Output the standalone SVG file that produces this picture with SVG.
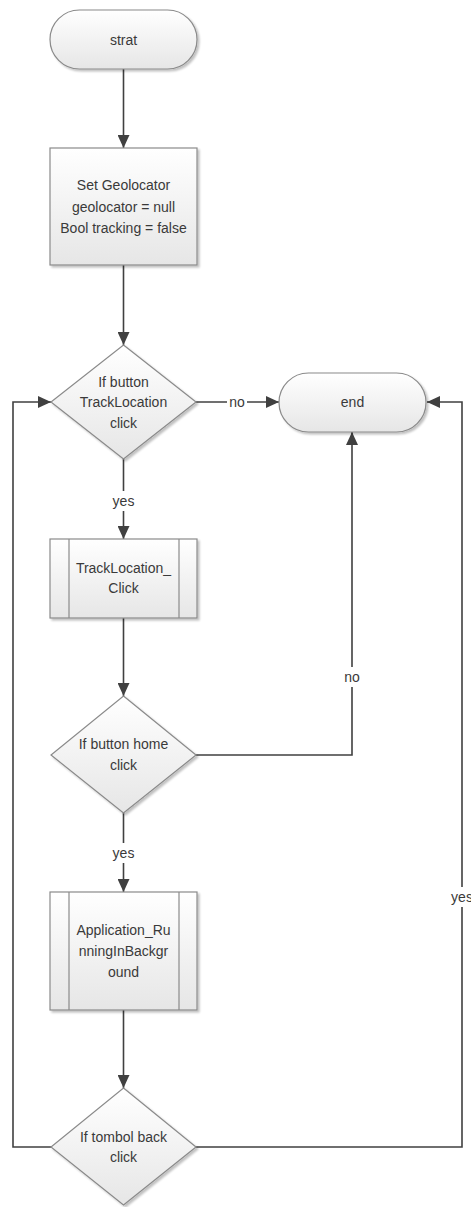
<svg xmlns="http://www.w3.org/2000/svg" width="471" height="1207" viewBox="0 0 471 1207">
<style>
.shape{fill:url(#g);stroke:#8a8a8a;stroke-width:1.2;filter:url(#sh)}
.inner{fill:none;stroke:#8a8a8a;stroke-width:1.2}
.t{font-family:"Liberation Sans",Arial,sans-serif;font-size:14px;fill:#3a3a3a;text-anchor:middle}
.c{fill:none;stroke:#404040;stroke-width:1.6}
.ca{marker-end:url(#ah)}
.lb{fill:#ffffff}
</style>
<defs>
<linearGradient id="g" x1="0" y1="0" x2="0" y2="1">
<stop offset="0" stop-color="#ffffff"/>
<stop offset="1" stop-color="#e6e6e6"/>
</linearGradient>
<filter id="sh" x="-10%" y="-10%" width="125%" height="125%">
<feGaussianBlur in="SourceAlpha" stdDeviation="1.2"/>
<feOffset dx="1.5" dy="1.5" result="o"/>
<feComponentTransfer><feFuncA type="linear" slope="0.25"/></feComponentTransfer>
<feMerge><feMergeNode/><feMergeNode in="SourceGraphic"/></feMerge>
</filter>
<marker id="ah" viewBox="0 0 13 12" refX="13" refY="6" markerWidth="13" markerHeight="12" markerUnits="userSpaceOnUse" orient="auto">
<path d="M0,0 L13,6 L0,12 z" fill="#404040"/>
</marker>
</defs>

<g id="connectors">
<path class="c ca" d="M123.5,69 V148"/>
<path class="c ca" d="M123.5,265 V345"/>
<path class="c ca" d="M196,402 H279"/>
<path class="c ca" d="M123.5,459 V539"/>
<path class="c ca" d="M123.5,618 V696"/>
<path class="c ca" d="M196,755 H352 V432"/>
<path class="c ca" d="M123.5,813 V892"/>
<path class="c ca" d="M123.5,1010 V1088"/>
<path class="c ca" d="M51,1147 H13 V402 H51"/>
<path class="c ca" d="M196,1147 H462 V402 H427"/>
<rect class="lb" x="227" y="394" width="20" height="16"/>
<text class="t" x="237" y="407">no</text>
<rect class="lb" x="111" y="491" width="25" height="20"/>
<text class="t" x="123.5" y="506">yes</text>
<rect class="lb" x="341" y="667" width="22" height="20"/>
<text class="t" x="352" y="682">no</text>
<rect class="lb" x="111" y="843" width="25" height="20"/>
<text class="t" x="123.5" y="858">yes</text>
<rect class="lb" x="450" y="887" width="25" height="20"/>
<text class="t" x="462" y="902">yes</text>
</g>

<g id="n-start">
<rect class="shape" x="50" y="10" width="147" height="59" rx="29.5" ry="29.5"/>
<text class="t" x="123.5" y="45">strat</text>
</g>

<g id="n-set">
<rect class="shape" x="50" y="148" width="147" height="117"/>
<text class="t" x="123.5" y="190">Set Geolocator</text>
<text class="t" x="123.5" y="212">geolocator = null</text>
<text class="t" x="123.5" y="233">Bool tracking = false</text>
</g>

<g id="n-d1">
<polygon class="shape" points="123.5,345 196,402 123.5,459 51,402"/>
<text class="t" x="123.5" y="387">If button</text>
<text class="t" x="123.5" y="407">TrackLocation</text>
<text class="t" x="123.5" y="428">click</text>
</g>

<g id="n-end">
<rect class="shape" x="279" y="373" width="147" height="59" rx="29.5" ry="29.5"/>
<text class="t" x="352.5" y="407">end</text>
</g>

<g id="n-sub1">
<rect class="shape" x="50" y="539" width="147" height="79"/>
<line class="inner" x1="69" y1="539" x2="69" y2="618"/>
<line class="inner" x1="179" y1="539" x2="179" y2="618"/>
<text class="t" x="123.5" y="573">TrackLocation_</text>
<text class="t" x="123.5" y="593">Click</text>
</g>

<g id="n-d2">
<polygon class="shape" points="123.5,696 196,755 123.5,813 51,755"/>
<text class="t" x="123.5" y="749">If button home</text>
<text class="t" x="123.5" y="770">click</text>
</g>

<g id="n-sub2">
<rect class="shape" x="50" y="892" width="147" height="118"/>
<line class="inner" x1="69" y1="892" x2="69" y2="1010"/>
<line class="inner" x1="179" y1="892" x2="179" y2="1010"/>
<text class="t" x="123.5" y="935">Application_Ru</text>
<text class="t" x="123.5" y="956">nningInBackgr</text>
<text class="t" x="123.5" y="977">ound</text>
</g>

<g id="n-d3">
<polygon class="shape" points="123.5,1088 196,1147 123.5,1205 51,1147"/>
<text class="t" x="123.5" y="1142">If tombol back</text>
<text class="t" x="123.5" y="1162">click</text>
</g>
</svg>
